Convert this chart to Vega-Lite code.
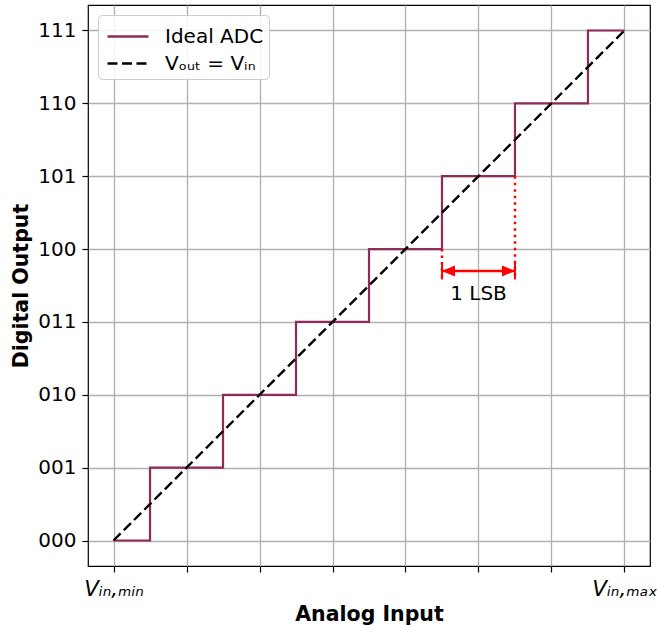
{
  "$schema": "https://vega.github.io/schema/vega-lite/v6.json",
  "width": 562,
  "height": 561,
  "autosize": {"type": "none"},
  "padding": {"left": 88, "top": 5, "right": 7, "bottom": 61},
  "config": {
    "font": "DejaVu Sans",
    "view": {"stroke": "#000000", "strokeWidth": 1.2},
    "axis": {
      "domain": false,
      "grid": true,
      "gridColor": "#b0b0b0",
      "gridWidth": 1.3,
      "ticks": true,
      "tickColor": "#000000",
      "tickWidth": 1.2,
      "tickSize": 6,
      "labelColor": "#000000",
      "labelFont": "DejaVu Sans",
      "labelFontSize": 20,
      "titleFont": "DejaVu Sans",
      "titleFontSize": 20.5,
      "titleFontWeight": "bold",
      "titleColor": "#000000"
    }
  },
  "datasets": {
    "adc": [
      {"vin": 0, "code": 0, "series": "Ideal ADC"},
      {"vin": 1, "code": 1, "series": "Ideal ADC"},
      {"vin": 2, "code": 2, "series": "Ideal ADC"},
      {"vin": 3, "code": 3, "series": "Ideal ADC"},
      {"vin": 4, "code": 4, "series": "Ideal ADC"},
      {"vin": 5, "code": 5, "series": "Ideal ADC"},
      {"vin": 6, "code": 6, "series": "Ideal ADC"},
      {"vin": 7, "code": 7, "series": "Ideal ADC"}
    ],
    "ideal": [
      {"vin": 0, "code": 0, "series": "Vₒᵤₜ = Vᵢₙ"},
      {"vin": 7, "code": 7, "series": "Vₒᵤₜ = Vᵢₙ"}
    ],
    "guides": [
      {"vin": 4.5, "top": 4, "bottom": 3.6},
      {"vin": 5.5, "top": 5, "bottom": 3.6}
    ],
    "arrow": [{"vin": 4.5, "vin2": 5.5, "code": 3.7}],
    "heads": [
      {"vin": 4.5, "code": 3.7, "side": "left"},
      {"vin": 5.5, "code": 3.7, "side": "right"}
    ],
    "note": [{"vin": 5, "code": 3.38, "text": "1 LSB"}]
  },
  "layer": [
    {
      "data": {"name": "adc"},
      "mark": {"type": "line", "interpolate": "step", "strokeWidth": 2.2},
      "encoding": {
        "x": {
          "field": "vin",
          "type": "quantitative",
          "scale": {"domain": [-0.35, 7.35], "nice": false, "zero": false},
          "axis": {
            "title": "Analog Input",
            "values": [0, 1, 2, 3, 4, 5, 6, 7],
            "labelExpr": "datum.value == 0 ? 'Vᵢₙ,ₘᵢₙ' : (datum.value == 7 ? 'Vᵢₙ,ₘₐₓ' : '')",
            "labelFontStyle": "italic",
            "labelFontSize": 21.5,
            "labelPadding": 6,
            "labelOverlap": false,
            "titlePadding": 5
          }
        },
        "y": {
          "field": "code",
          "type": "quantitative",
          "scale": {"domain": [-0.35, 7.35], "nice": false, "zero": false},
          "axis": {
            "title": "Digital Output",
            "values": [0, 1, 2, 3, 4, 5, 6, 7],
            "labelExpr": "['000','001','010','011','100','101','110','111'][datum.value]",
            "labelPadding": 6,
            "titlePadding": 6
          }
        },
        "color": {
          "field": "series",
          "type": "nominal",
          "scale": {"domain": ["Ideal ADC", "Vₒᵤₜ = Vᵢₙ"], "range": ["#902a5a", "#000000"]},
          "legend": {
            "title": null,
            "orient": "top-left",
            "offset": 10,
            "symbolType": "M-0.8,0L1.93,0",
            "symbolSize": 900,
            "symbolStrokeWidth": 2.3,
            "labelFontSize": 20,
            "labelFont": "DejaVu Sans",
            "labelColor": "#000000",
            "labelOffset": 29,
            "rowPadding": 0,
            "padding": 5,
            "fillColor": "rgba(255,255,255,0.85)",
            "strokeColor": "#cccccc",
            "cornerRadius": 4
          }
        },
        "strokeDash": {
          "field": "series",
          "type": "nominal",
          "scale": {"domain": ["Ideal ADC", "Vₒᵤₜ = Vᵢₙ"], "range": [[1, 0], [10, 4.5]]},
          "legend": {
            "title": null,
            "orient": "top-left",
            "offset": 10,
            "symbolType": "M-0.8,0L1.93,0",
            "symbolSize": 900,
            "symbolStrokeWidth": 2.3,
            "labelFontSize": 20,
            "labelFont": "DejaVu Sans",
            "labelColor": "#000000",
            "labelOffset": 29,
            "rowPadding": 0,
            "padding": 5,
            "fillColor": "rgba(255,255,255,0.85)",
            "strokeColor": "#cccccc",
            "cornerRadius": 4
          }
        }
      }
    },
    {
      "data": {"name": "ideal"},
      "mark": {"type": "line", "strokeWidth": 2.4},
      "encoding": {
        "x": {"field": "vin", "type": "quantitative"},
        "y": {"field": "code", "type": "quantitative"},
        "color": {"field": "series", "type": "nominal"},
        "strokeDash": {"field": "series", "type": "nominal"}
      }
    },
    {
      "data": {"name": "guides"},
      "mark": {"type": "rule", "color": "#ff0000", "strokeWidth": 2.5, "strokeDash": [2.5, 4]},
      "encoding": {
        "x": {"field": "vin", "type": "quantitative"},
        "y": {"field": "top", "type": "quantitative"},
        "y2": {"field": "bottom"}
      }
    },
    {
      "data": {"name": "arrow"},
      "mark": {"type": "rule", "color": "#ff0000", "strokeWidth": 2.5},
      "encoding": {
        "x": {"field": "vin", "type": "quantitative"},
        "x2": {"field": "vin2"},
        "y": {"field": "code", "type": "quantitative"}
      }
    },
    {
      "data": {"name": "heads"},
      "mark": {"type": "point", "filled": true, "color": "#ff0000", "opacity": 1, "size": 169},
      "encoding": {
        "x": {"field": "vin", "type": "quantitative"},
        "y": {"field": "code", "type": "quantitative"},
        "shape": {
          "field": "side",
          "type": "nominal",
          "scale": {
            "domain": ["left", "right"],
            "range": [
              "M0,0L2,-0.85L2,0.85Z M-0.15,-1.3L0.15,-1.3L0.15,1.3L-0.15,1.3Z",
              "M0,0L-2,-0.85L-2,0.85Z M-0.15,-1.3L0.15,-1.3L0.15,1.3L-0.15,1.3Z"
            ]
          },
          "legend": null
        }
      }
    },
    {
      "data": {"name": "note"},
      "mark": {"type": "text", "fontSize": 20, "font": "DejaVu Sans", "color": "#000000", "baseline": "middle", "align": "center"},
      "encoding": {
        "x": {"field": "vin", "type": "quantitative"},
        "y": {"field": "code", "type": "quantitative"},
        "text": {"field": "text"}
      }
    }
  ]
}
